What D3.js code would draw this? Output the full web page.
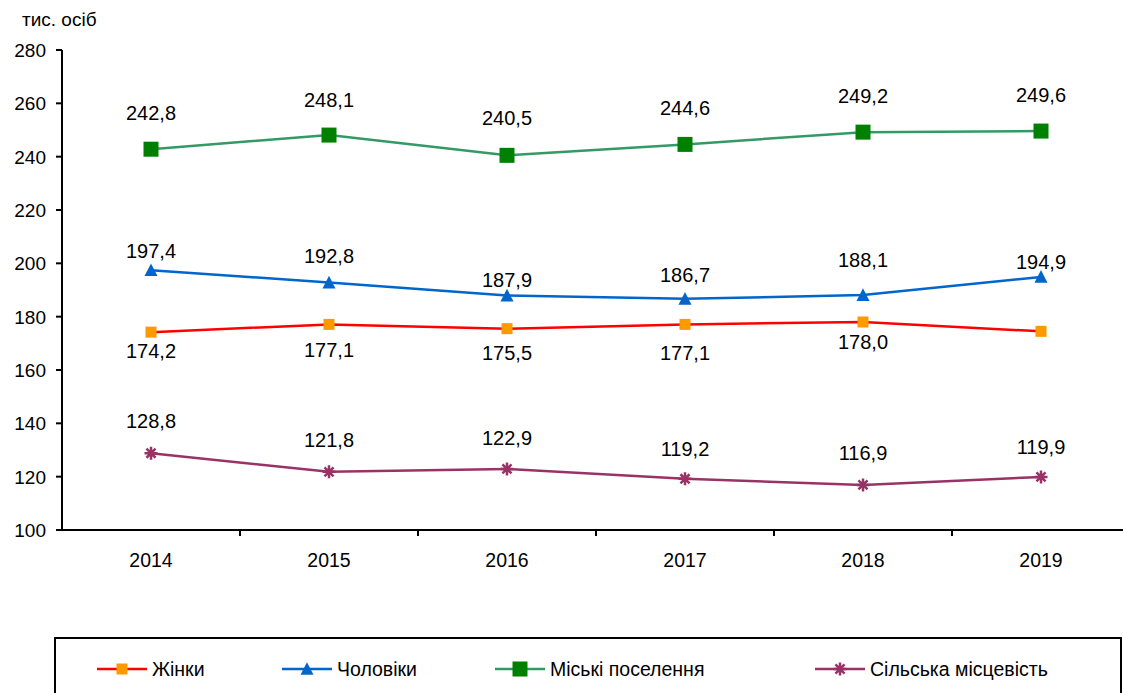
<!DOCTYPE html>
<html>
<head>
<meta charset="utf-8">
<script src="https://cdn.jsdelivr.net/npm/d3@7"></script>
<style>
  body { margin: 0; background: #fff; }
  text { font-family: Arial, "Liberation Sans", sans-serif; fill: #000; }
</style>
</head>
<body>
<div id="chart"></div>
<script>
// data
var years = ["2014", "2015", "2016", "2017", "2018", "2019"];
var women = [174.2, 177.1, 175.5, 177.1, 178.0, 174.5];
var men = [197.4, 192.8, 187.9, 186.7, 188.1, 194.9];
var urban = [242.8, 248.1, 240.5, 244.6, 249.2, 249.6];
var rural = [128.8, 121.8, 122.9, 119.2, 116.9, 119.9];
var yTicks = [100, 120, 140, 160, 180, 200, 220, 240, 260, 280];
var seriesNames = ["Жінки", "Чоловіки", "Міські поселення", "Сільська місцевість"];

var width = 1123, height = 693;

var svg = d3.select("#chart").append("svg")
    .attr("width", width)
    .attr("height", height);

var x = d3.scaleBand()
    .domain(years)
    .range([62, 62 + 178 * 6]);

var y = d3.scaleLinear()
    .domain([100, 280])
    .range([530, 50]);

// series setup; label offsets (baseline, px from the point) as the labels sit in the original
var series = [
    { name: seriesNames[0], values: women, line: "#ff0000", marker: "square", fill: "#ff9900", size: 11,
      dy: [26, 33, 31, 36, 27, null] },
    { name: seriesNames[1], values: men, line: "#0066cc", marker: "triangle", fill: "#0066cc", size: 13,
      dy: [-12, -20, -9, -17, -28, -8] },
    { name: seriesNames[2], values: urban, line: "#339966", marker: "square", fill: "#008000", size: 15,
      dy: [-29, -28, -30, -29, -29, -29] },
    { name: seriesNames[3], values: rural, line: "#993366", marker: "star", fill: "#993366", size: 13,
      dy: [-25, -25, -24, -23, -25, -23] }
];

// y axis
svg.append("line")
    .attr("x1", 62).attr("x2", 62)
    .attr("y1", y(280)).attr("y2", y(100))
    .attr("stroke", "#000").attr("stroke-width", 2);

svg.selectAll(".ytick")
    .data(yTicks)
    .enter()
    .append("line")
    .attr("x1", 56).attr("x2", 62)
    .attr("y1", function(d) { return y(d); })
    .attr("y2", function(d) { return y(d); })
    .attr("stroke", "#000").attr("stroke-width", 2);

svg.selectAll(".ylab")
    .data(yTicks)
    .enter()
    .append("text")
    .attr("x", 46)
    .attr("y", function(d) { return y(d) + 7; })
    .attr("text-anchor", "end")
    .style("font-size", "19px")
    .text(function(d) { return d; });

svg.append("text")
    .attr("x", 22).attr("y", 26)
    .style("font-size", "19px")
    .text("тис. осіб");

// x axis
svg.append("line")
    .attr("x1", 62).attr("x2", width)
    .attr("y1", y(100)).attr("y2", y(100))
    .attr("stroke", "#000").attr("stroke-width", 2);

svg.selectAll(".xtick")
    .data(years)
    .enter()
    .append("line")
    .attr("x1", function(d) { return x(d) + x.bandwidth(); })
    .attr("x2", function(d) { return x(d) + x.bandwidth(); })
    .attr("y1", y(100)).attr("y2", y(100) + 6)
    .attr("stroke", "#000").attr("stroke-width", 2);

svg.selectAll(".xlab")
    .data(years)
    .enter()
    .append("text")
    .attr("x", function(d) { return x(d) + x.bandwidth() / 2; })
    .attr("y", 567)
    .attr("text-anchor", "middle")
    .style("font-size", "19.5px")
    .text(function(d) { return d; });

function cx(i) { return x(years[i]) + x.bandwidth() / 2; }

var line = d3.line()
    .x(function(d, i) { return cx(i); })
    .y(function(d) { return y(d); });

function drawMarker(g, type, size, fill, px, py) {
    if (type === "square") {
        g.append("rect")
            .attr("x", px - size / 2).attr("y", py - size / 2)
            .attr("width", size).attr("height", size)
            .attr("fill", fill);
    } else if (type === "triangle") {
        var h = size * 0.9;
        g.append("path")
            .attr("d", "M" + px + "," + (py - h / 2 - 1) + "L" + (px + size / 2) + "," + (py + h / 2) + "L" + (px - size / 2) + "," + (py + h / 2) + "Z")
            .attr("fill", fill);
    } else {
        var r = size / 2;
        g.append("path")
            .attr("d", "M" + (px - r) + "," + py + "L" + (px + r) + "," + py +
                "M" + (px - r * 0.7) + "," + (py - r * 0.7) + "L" + (px + r * 0.7) + "," + (py + r * 0.7) +
                "M" + (px - r * 0.7) + "," + (py + r * 0.7) + "L" + (px + r * 0.7) + "," + (py - r * 0.7) +
                "M" + px + "," + (py - r) + "L" + px + "," + (py + r))
            .attr("stroke", fill).attr("stroke-width", 2.5).attr("fill", "none");
    }
}

series.forEach(function(s) {
    var g = svg.append("g");
    g.append("path")
        .datum(s.values)
        .attr("d", line)
        .attr("fill", "none")
        .attr("stroke", s.line)
        .attr("stroke-width", 2.5);

    s.values.forEach(function(v, i) {
        drawMarker(g, s.marker, s.size, s.fill, cx(i), y(v));
    });

    s.values.forEach(function(v, i) {
        if (s.dy[i] === null) return; // no label on this point in the original
        g.append("text")
            .attr("x", cx(i))
            .attr("y", y(v) + s.dy[i])
            .attr("text-anchor", "middle")
            .style("font-size", "20px")
            .text(v.toFixed(1).replace(".", ","));
    });
});

// legend
svg.append("rect")
    .attr("x", 55).attr("y", 638)
    .attr("width", 1066).attr("height", 80)
    .attr("fill", "none")
    .attr("stroke", "#000").attr("stroke-width", 2);

var legendX = [97, 282, 495, 815];
series.forEach(function(s, i) {
    var lg = svg.append("g");
    var lx = legendX[i], ly = 669;
    lg.append("line")
        .attr("x1", lx).attr("x2", lx + 50)
        .attr("y1", ly).attr("y2", ly)
        .attr("stroke", s.line).attr("stroke-width", 2.5);
    drawMarker(lg, s.marker, s.size, s.fill, lx + 25, ly);
    lg.append("text")
        .attr("x", lx + 55)
        .attr("y", ly + 7)
        .style("font-size", "19.5px")
        .text(s.name);
});
</script>
</body>
</html>
